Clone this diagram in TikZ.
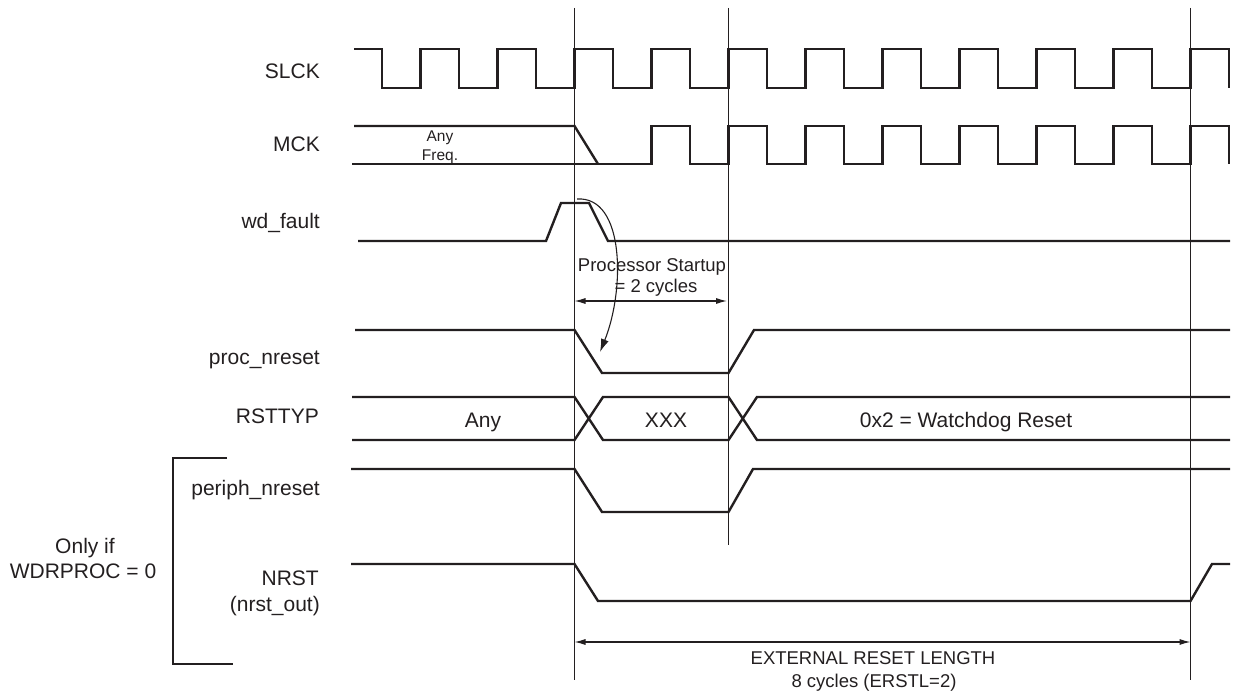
\documentclass[tikz,border=0pt]{standalone}
\usepackage{fontspec}
\setmainfont{Liberation Sans}
\usetikzlibrary{arrows.meta}
\definecolor{ink}{HTML}{231F20}
\begin{document}
\begin{tikzpicture}[x=1pt,y=-1pt,
  wave/.style={line width=2.4pt, draw=ink, line join=miter},
  guide/.style={line width=1.1pt, draw=ink},
  dimarrow/.style={line width=1.1pt, draw=ink, {Latex[length=11pt,width=6pt]}-{Latex[length=11pt,width=6pt]}},
  curvearrow/.style={line width=1.1pt, draw=ink, -{Latex[length=13pt,width=8pt]}},
  lbl/.style={anchor=base east, inner sep=0pt, text=ink, font=\fontsize{21}{25}\selectfont},
  txt/.style={anchor=base, inner sep=0pt, text=ink, font=\fontsize{21}{25}\selectfont},
  note/.style={anchor=base, inner sep=0pt, text=ink, font=\fontsize{18.5}{22}\selectfont},
  smalltxt/.style={anchor=base, inner sep=0pt, text=ink, font=\fontsize{15.5}{18}\selectfont}]
\useasboundingbox (0,0) rectangle (1234,692);

% guide coordinates
\coordinate (aT) at (574.5,8);   \coordinate (aB) at (574.5,680);
\coordinate (bT) at (728.5,8);   \coordinate (bB) at (728.5,545);
\coordinate (cT) at (1190.5,8);  \coordinate (cB) at (1190.5,680);
\draw[guide] (aT) -- (aB);
\draw[guide] (bT) -- (bB);
\draw[guide] (cT) -- (cB);

% labels
\node[lbl] (lslck) at (320,79) {SLCK};
\node[lbl] (lmck) at (320,152) {MCK};
\node[lbl] (lwd) at (320,229) {wd\_fault};
\node[lbl] (lproc) at (320,365) {proc\_nreset};
\node[lbl] (lrst) at (319,423) {RSTTYP};
\node[lbl] (lper) at (320,495) {periph\_nreset};
\node[lbl] (lnrst) at (319,585) {NRST};
\node[lbl] (lnrsto) at (320,611) {(nrst\_out)};
\node[txt] (only) at (85,553) {Only if};
\node[txt] (wdr) at (83,578) {WDRPROC = 0};

% bracket
\draw[wave] (227,458) -- (173,458) -- (173,664) -- (233,664);

% SLCK
\draw[wave] (354,49) -| (382,88) -| (420.5,49) -| (459,88) -| (497.5,49) -| (536,88)
  -| (574.5,49) -| (613,88) -| (651.5,49) -| (690,88) -| (728.5,49) -| (767,88)
  -| (805.5,49) -| (844,88) -| (882.5,49) -| (921,88) -| (959.5,49) -| (998,88)
  -| (1036.5,49) -| (1075,88) -| (1113.5,49) -| (1152,88) -| (1190.5,49) -| (1229,88);

% MCK
\draw[wave] (354,126) -- (574.5,126) -- (598,164);
\draw[wave] (352,164) -| (651.5,126) -| (690,164) -| (728.5,126) -| (767,164)
  -| (805.5,126) -| (844,164) -| (882.5,126) -| (921,164) -| (959.5,126) -| (998,164)
  -| (1036.5,126) -| (1075,164) -| (1113.5,126) -| (1152,164) -| (1190.5,126) -| (1229,164);
\node[smalltxt] (any1) at (440,142) {Any};
\node[smalltxt] (freq) at (440,161) {Freq.};

% wd_fault
\draw[wave] (358,241) -- (546,241) -- (561,203) -- (589,203) -- (608,241) -- (1230,241);

% Processor startup
\node[note] (ps1) at (652,272) {Processor Startup};
\node[note] (ps2) at (656,293) {= 2 cycles};
\coordinate (psL) at (574.5,301);
\coordinate (psR) at (727,301);
\draw[dimarrow] (psL) -- (psR);

% curved arrow
\coordinate (cvS) at (577,199);
\coordinate (cvE) at (600,352);
\draw[curvearrow] (cvS) .. controls (625,196) and (625,290) .. (cvE);

% proc_nreset
\draw[wave] (355,330) -- (574.5,330) -- (602,373) -- (728.5,373) -- (754,330) -- (1230,330);

% RSTTYP
\draw[wave] (352,397) -- (574.5,397) -- (603,440) -- (728.5,440) -- (757,397) -- (1230,397);
\draw[wave] (352,440) -- (574.5,440) -- (603,397) -- (728.5,397) -- (757,440) -- (1230,440);
\node[txt] (any2) at (483,427) {Any};
\node[txt] (xxx) at (666,428) {XXX};
\node[txt] (wdg) at (966,427) {0x2 = Watchdog Reset};

% periph_nreset
\draw[wave] (351,469) -- (574.5,469) -- (602,512) -- (728.5,512) -- (753,469) -- (1230,469);

% NRST
\draw[wave] (351,564) -- (574.5,564) -- (598,601) -- (1190.5,601) -- (1212,564) -- (1230,564);

% external reset length
\coordinate (erL) at (574.5,642);
\coordinate (erR) at (1190.5,642);
\draw[dimarrow] (erL) -- (erR);
\node[note] (er1) at (873,664) {EXTERNAL RESET LENGTH};
\node[note] (er2) at (874,687) {8 cycles (ERSTL=2)};
\end{tikzpicture}
\end{document}
